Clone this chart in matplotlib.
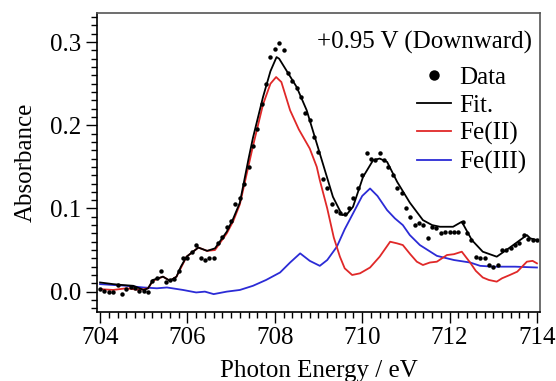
import matplotlib
matplotlib.use("Agg")
import matplotlib.pyplot as plt
from matplotlib.ticker import MultipleLocator
from matplotlib.lines import Line2D

plt.rcParams['font.family'] = ['Liberation Serif', 'DejaVu Serif']

# ---- data ----
data_E = [704.0, 704.1, 704.2, 704.3, 704.4, 704.5, 704.6, 704.7, 704.8, 704.9,
          705.0, 705.1, 705.2, 705.3, 705.4, 705.5, 705.6, 705.7, 705.8, 705.9,
          706.0, 706.1, 706.2, 706.3, 706.4, 706.5, 706.6, 706.7, 706.8, 706.9,
          707.0, 707.1, 707.2, 707.3, 707.4, 707.5, 707.6, 707.7, 707.8, 707.9,
          708.0, 708.1, 708.2, 708.3, 708.4, 708.5, 708.6, 708.7, 708.8, 708.9,
          709.0, 709.1, 709.2, 709.3, 709.4, 709.5, 709.6, 709.7, 709.8, 709.9,
          710.0, 710.1, 710.2, 710.3, 710.4, 710.5, 710.6, 710.7, 710.8, 710.9,
          711.0, 711.1, 711.2, 711.3, 711.4, 711.5, 711.6, 711.7, 711.8, 711.9,
          712.0, 712.1, 712.2, 712.3, 712.4, 712.5, 712.6, 712.7, 712.8, 712.9,
          713.0, 713.1, 713.2, 713.3, 713.4, 713.5, 713.6, 713.7, 713.8, 713.9,
          714.0]
data_A = [0.003, 0.001, 0.000, 0.000, 0.008, -0.003, 0.003, 0.006, 0.004, 0.001,
          0.001, -0.001, 0.013, 0.016, 0.025, 0.011, 0.014, 0.015, 0.025, 0.040,
          0.040, 0.048, 0.056, 0.041, 0.038, 0.040, 0.040, 0.058, 0.066, 0.078,
          0.085, 0.105, 0.112, 0.130, 0.150, 0.175, 0.195, 0.225, 0.250, 0.282,
          0.292, 0.299, 0.290, 0.263, 0.253, 0.245, 0.234, 0.215, 0.206, 0.186,
          0.168, 0.135, 0.125, 0.105, 0.097, 0.095, 0.093, 0.100, 0.112, 0.125,
          0.140, 0.167, 0.160, 0.158, 0.167, 0.158, 0.150, 0.140, 0.125, 0.118,
          0.100, 0.090, 0.080, 0.082, 0.080, 0.065, 0.078, 0.077, 0.071, 0.072,
          0.072, 0.072, 0.072, 0.084, 0.070, 0.062, 0.042, 0.041, 0.041, 0.032,
          0.030, 0.032, 0.050, 0.050, 0.053, 0.056, 0.058, 0.068, 0.063, 0.062,
          0.062]

fit_E = [704.0, 704.3, 704.5, 704.76, 705.0, 705.1, 705.21, 705.44, 705.6, 705.75,
         705.85, 705.98, 706.25, 706.45, 706.63, 706.9, 707.05, 707.2, 707.4, 707.5,
         707.73, 707.9, 708.04, 708.1, 708.5, 708.73, 709.03, 709.33, 709.54, 709.65,
         709.79, 710.02, 710.25, 710.4, 710.57, 710.8, 711.09, 711.39, 711.6, 711.78,
         712.08, 712.28, 712.51, 712.76, 713.08, 713.38, 713.77, 713.85, 714.0]
fit_A = [0.011, 0.009, 0.008, 0.007, 0.002, 0.004, 0.014, 0.018, 0.013, 0.018,
         0.030, 0.042, 0.053, 0.049, 0.052, 0.072, 0.088, 0.107, 0.160, 0.185,
         0.234, 0.265, 0.282, 0.280, 0.246, 0.218, 0.166, 0.114, 0.092, 0.093,
         0.102, 0.138, 0.158, 0.160, 0.156, 0.132, 0.107, 0.086, 0.080, 0.078,
         0.078, 0.084, 0.062, 0.048, 0.042, 0.053, 0.068, 0.064, 0.062]

fe2_E = [704.0, 704.3, 704.6, 704.9, 705.1, 705.21, 705.44, 705.6, 705.75, 705.98,
         706.25, 706.45, 706.63, 706.9, 707.05, 707.2, 707.5, 707.73, 707.9, 708.03,
         708.15, 708.35, 708.55, 708.8, 708.96, 709.03, 709.2, 709.35, 709.49, 709.6,
         709.77, 709.95, 710.18, 710.4, 710.64, 710.8, 710.93, 711.1, 711.25, 711.39,
         711.55, 711.71, 711.94, 712.1, 712.28, 712.47, 712.6, 712.76, 712.9, 713.08,
         713.2, 713.38, 713.55, 713.77, 713.9, 714.0]
fe2_A = [0.003, 0.002, 0.004, 0.002, 0.004, 0.013, 0.018, 0.013, 0.018, 0.042,
         0.053, 0.049, 0.050, 0.070, 0.085, 0.105, 0.175, 0.225, 0.250, 0.258,
         0.252, 0.218, 0.195, 0.172, 0.150, 0.134, 0.100, 0.065, 0.042, 0.028,
         0.020, 0.022, 0.029, 0.042, 0.060, 0.058, 0.056, 0.045, 0.036, 0.032,
         0.035, 0.036, 0.044, 0.045, 0.048, 0.035, 0.025, 0.017, 0.014, 0.012,
         0.016, 0.020, 0.024, 0.036, 0.037, 0.034]

fe3_E = [704.0, 704.3, 704.6, 704.99, 705.3, 705.53, 705.9, 706.2, 706.4, 706.6,
         706.9, 707.2, 707.5, 707.8, 708.12, 708.35, 708.58, 708.8, 709.03, 709.2,
         709.42, 709.6, 709.8, 710.0, 710.18, 710.35, 710.57, 710.75, 710.93, 711.09,
         711.32, 711.71, 712.1, 712.47, 712.7, 713.0, 713.5, 714.0]
fe3_A = [0.009, 0.008, 0.007, 0.005, 0.004, 0.005, 0.002, -0.001, 0.000, -0.003,
         0.000, 0.002, 0.007, 0.014, 0.023, 0.035, 0.046, 0.037, 0.031, 0.038,
         0.054, 0.075, 0.095, 0.115, 0.124, 0.115, 0.098, 0.088, 0.080, 0.068,
         0.056, 0.043, 0.038, 0.035, 0.031, 0.030, 0.030, 0.029]

title_text = "+0.95 V (Downward)"
labels = ["Data", "Fit.", "Fe(II)", "Fe(III)"]
x_ticks = [704, 706, 708, 710, 712, 714]
y_ticks = [0.0, 0.1, 0.2, 0.3]

# ---- figure ----
W, H = 556, 381
FS = 18
fig = plt.figure(figsize=(W / 100, H / 100), dpi=100)
ax = fig.add_axes([97 / W, 1 - 312 / H, (540 - 97) / W, (312 - 13) / H])

ax.plot(fe3_E, fe3_A, color='#2b2bd6', lw=1.3)
ax.plot(fe2_E, fe2_A, color='#e02828', lw=1.3)
ax.plot(fit_E, fit_A, color='black', lw=1.3)
ax.plot(data_E, data_A, 'o', color='black', ms=3.2, mec='none')

ax.set_xlim(703.93, 714.07)
ax.set_ylim(-0.0245, 0.335)
ax.set_xticks(x_ticks)
ax.set_yticks(y_ticks)
ax.set_yticklabels([f"{v:.1f}" for v in y_ticks])
ax.xaxis.set_minor_locator(MultipleLocator(0.2))
ax.yaxis.set_minor_locator(MultipleLocator(0.01))
ax.tick_params(which='major', direction='out', length=8, width=1.0, labelsize=FS, pad=3)
ax.tick_params(which='minor', direction='out', length=4.5, width=1.0)
ax.tick_params(top=False, right=False)
for s in ['left', 'bottom']:
    ax.spines[s].set_linewidth(1.2)
for s in ['top', 'right']:
    ax.spines[s].set_color('#555555')
    ax.spines[s].set_linewidth(1.2)

ax.set_xlabel("Photon Energy / eV", fontsize=FS, labelpad=8)
ax.set_ylabel("Absorbance", fontsize=FS, labelpad=10)

fig.text(532 / W, 1 - 42 / H, title_text, ha='right', va='center', fontsize=FS)

handles = [
    Line2D([], [], ls='none', marker='o', color='black', ms=7.5, mec='none'),
    Line2D([], [], color='black', lw=1.3),
    Line2D([], [], color='#e02828', lw=1.3),
    Line2D([], [], color='#2b2bd6', lw=1.3),
]
fig.legend(handles, labels, loc='upper left', bbox_to_anchor=(417 / W, 1 - 66 / H),
           frameon=False, fontsize=FS, handlelength=1.35, handletextpad=0.35,
           labelspacing=0.22, borderpad=0, borderaxespad=0)

fig.savefig("out.png", dpi=100)
